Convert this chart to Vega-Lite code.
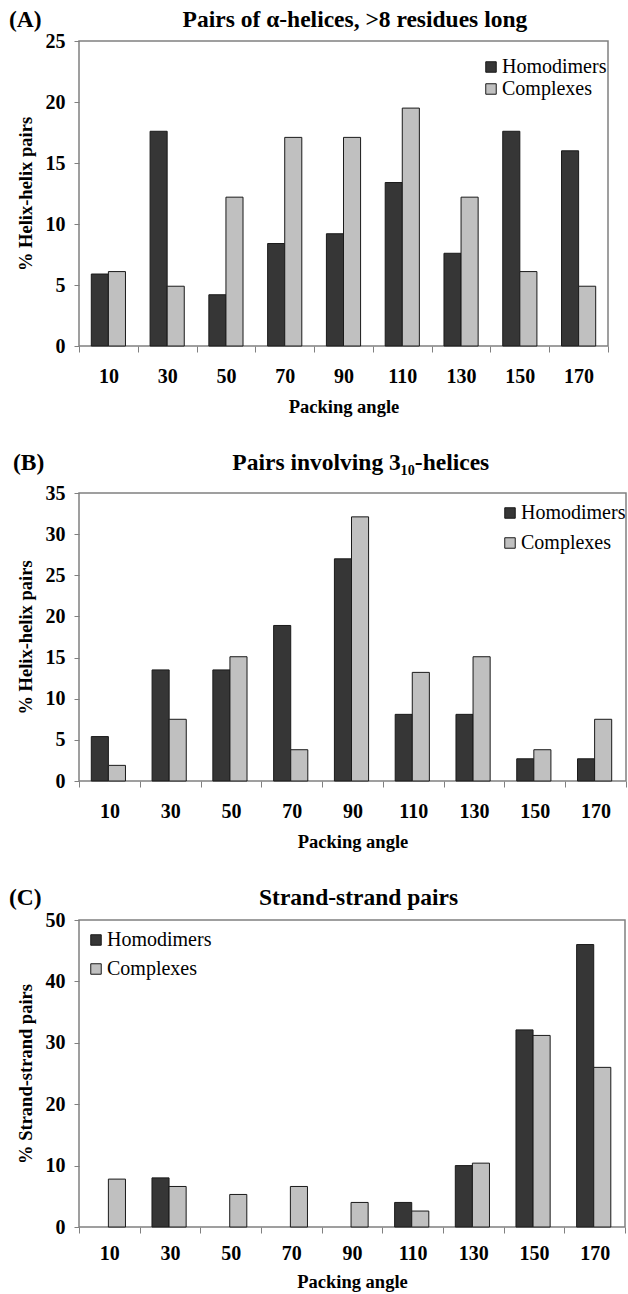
{
  "$schema": "https://vega.github.io/schema/vega-lite/v6.json",
  "padding": {"left": 8, "top": 6, "right": 0, "bottom": 0},
  "background": "white",
  "datasets": {
    "A": [
      {"angle": 10, "group": "Homodimers", "pct": 5.9},
      {"angle": 30, "group": "Homodimers", "pct": 17.6},
      {"angle": 50, "group": "Homodimers", "pct": 4.2},
      {"angle": 70, "group": "Homodimers", "pct": 8.4},
      {"angle": 90, "group": "Homodimers", "pct": 9.2},
      {"angle": 110, "group": "Homodimers", "pct": 13.4},
      {"angle": 130, "group": "Homodimers", "pct": 7.6},
      {"angle": 150, "group": "Homodimers", "pct": 17.6},
      {"angle": 170, "group": "Homodimers", "pct": 16.0},
      {"angle": 10, "group": "Complexes", "pct": 6.1},
      {"angle": 30, "group": "Complexes", "pct": 4.9},
      {"angle": 50, "group": "Complexes", "pct": 12.2},
      {"angle": 70, "group": "Complexes", "pct": 17.1},
      {"angle": 90, "group": "Complexes", "pct": 17.1},
      {"angle": 110, "group": "Complexes", "pct": 19.5},
      {"angle": 130, "group": "Complexes", "pct": 12.2},
      {"angle": 150, "group": "Complexes", "pct": 6.1},
      {"angle": 170, "group": "Complexes", "pct": 4.9}
    ],
    "B": [
      {"angle": 10, "group": "Homodimers", "pct": 5.4},
      {"angle": 30, "group": "Homodimers", "pct": 13.5},
      {"angle": 50, "group": "Homodimers", "pct": 13.5},
      {"angle": 70, "group": "Homodimers", "pct": 18.9},
      {"angle": 90, "group": "Homodimers", "pct": 27.0},
      {"angle": 110, "group": "Homodimers", "pct": 8.1},
      {"angle": 130, "group": "Homodimers", "pct": 8.1},
      {"angle": 150, "group": "Homodimers", "pct": 2.7},
      {"angle": 170, "group": "Homodimers", "pct": 2.7},
      {"angle": 10, "group": "Complexes", "pct": 1.9},
      {"angle": 30, "group": "Complexes", "pct": 7.5},
      {"angle": 50, "group": "Complexes", "pct": 15.1},
      {"angle": 70, "group": "Complexes", "pct": 3.8},
      {"angle": 90, "group": "Complexes", "pct": 32.1},
      {"angle": 110, "group": "Complexes", "pct": 13.2},
      {"angle": 130, "group": "Complexes", "pct": 15.1},
      {"angle": 150, "group": "Complexes", "pct": 3.8},
      {"angle": 170, "group": "Complexes", "pct": 7.5}
    ],
    "C": [
      {"angle": 30, "group": "Homodimers", "pct": 8.0},
      {"angle": 110, "group": "Homodimers", "pct": 4.0},
      {"angle": 130, "group": "Homodimers", "pct": 10.0},
      {"angle": 150, "group": "Homodimers", "pct": 32.1},
      {"angle": 170, "group": "Homodimers", "pct": 46.0},
      {"angle": 10, "group": "Complexes", "pct": 7.8},
      {"angle": 30, "group": "Complexes", "pct": 6.6},
      {"angle": 50, "group": "Complexes", "pct": 5.3},
      {"angle": 70, "group": "Complexes", "pct": 6.6},
      {"angle": 90, "group": "Complexes", "pct": 4.0},
      {"angle": 110, "group": "Complexes", "pct": 2.6},
      {"angle": 130, "group": "Complexes", "pct": 10.4},
      {"angle": 150, "group": "Complexes", "pct": 31.2},
      {"angle": 170, "group": "Complexes", "pct": 26.0}
    ]
  },
  "vconcat": [
    {
      "title": {"text": "(A)\u00a0\u00a0\u00a0\u00a0\u00a0\u00a0\u00a0\u00a0\u00a0\u00a0\u00a0\u00a0\u00a0\u00a0\u00a0\u00a0\u00a0\u00a0\u00a0\u00a0\u00a0\u00a0\u00a0\u00a0Pairs of α-helices, >8 residues long", "dx": -70, "offset": 0},
      "width": 529,
      "height": 305,
      "data": {"name": "A"},
      "mark": {"type": "bar", "stroke": "#1a1a1a", "strokeWidth": 1},
      "encoding": {
        "x": {"field": "angle", "type": "ordinal", "title": "Packing angle", "scale": {"paddingInner": 0, "paddingOuter": 0}, "axis": {"labelPadding": 14, "titlePadding": 11}},
        "xOffset": {"field": "group", "type": "nominal", "scale": {"domain": ["Homodimers", "Complexes"], "paddingInner": 0, "paddingOuter": 0.72}},
        "y": {"field": "pct", "type": "quantitative", "title": "% Helix-helix pairs", "scale": {"domain": [0, 25], "nice": false}, "axis": {"values": [0, 5, 10, 15, 20, 25]}},
        "color": {"field": "group", "type": "nominal", "scale": {"domain": ["Homodimers", "Complexes"], "range": ["#363636", "#c0c0c0"]}, "legend": {"orient": "none", "legendX": 402, "legendY": 16, "rowPadding": 2}}
      }
    },
    {
      "title": {"text": "(B)\u00a0\u00a0\u00a0\u00a0\u00a0\u00a0\u00a0\u00a0\u00a0\u00a0\u00a0\u00a0\u00a0\u00a0\u00a0\u00a0\u00a0\u00a0\u00a0\u00a0\u00a0\u00a0\u00a0\u00a0\u00a0\u00a0\u00a0\u00a0\u00a0\u00a0\u00a0\u00a0Pairs involving 3₁₀-helices", "dx": -66, "offset": 9},
      "width": 547,
      "height": 288,
      "data": {"name": "B"},
      "mark": {"type": "bar", "stroke": "#1a1a1a", "strokeWidth": 1},
      "encoding": {
        "x": {"field": "angle", "type": "ordinal", "title": "Packing angle", "scale": {"paddingInner": 0, "paddingOuter": 0}, "axis": {"labelPadding": 14, "titlePadding": 11}},
        "xOffset": {"field": "group", "type": "nominal", "scale": {"domain": ["Homodimers", "Complexes"], "paddingInner": 0, "paddingOuter": 0.72}},
        "y": {"field": "pct", "type": "quantitative", "title": "% Helix-helix pairs", "scale": {"domain": [0, 35], "nice": false}, "axis": {"values": [0, 5, 10, 15, 20, 25, 30, 35]}},
        "color": {"field": "group", "type": "nominal", "scale": {"domain": ["Homodimers", "Complexes"], "range": ["#363636", "#c0c0c0"]}, "legend": {"orient": "none", "legendX": 421, "legendY": 10, "rowPadding": 10}}
      }
    },
    {
      "title": {"text": "(C)\u00a0\u00a0\u00a0\u00a0\u00a0\u00a0\u00a0\u00a0\u00a0\u00a0\u00a0\u00a0\u00a0\u00a0\u00a0\u00a0\u00a0\u00a0\u00a0\u00a0\u00a0\u00a0\u00a0\u00a0\u00a0\u00a0\u00a0\u00a0\u00a0\u00a0\u00a0\u00a0\u00a0\u00a0\u00a0\u00a0\u00a0Strand-strand pairs", "dx": -70, "offset": 1},
      "width": 546,
      "height": 307,
      "data": {"name": "C"},
      "mark": {"type": "bar", "stroke": "#1a1a1a", "strokeWidth": 1},
      "encoding": {
        "x": {"field": "angle", "type": "ordinal", "title": "Packing angle", "scale": {"domain": [10, 30, 50, 70, 90, 110, 130, 150, 170], "paddingInner": 0, "paddingOuter": 0}, "axis": {"labelPadding": 10, "titlePadding": 9}},
        "xOffset": {"field": "group", "type": "nominal", "scale": {"domain": ["Homodimers", "Complexes"], "paddingInner": 0, "paddingOuter": 0.72}},
        "y": {"field": "pct", "type": "quantitative", "title": "% Strand-strand pairs", "scale": {"domain": [0, 50], "nice": false}, "axis": {"values": [0, 10, 20, 30, 40, 50]}},
        "color": {"field": "group", "type": "nominal", "scale": {"domain": ["Homodimers", "Complexes"], "range": ["#363636", "#c0c0c0"]}, "legend": {"orient": "none", "legendX": 7, "legendY": 10, "rowPadding": 9}}
      }
    }
  ],
  "spacing": 32,
  "resolve": {"scale": {"color": "independent"}, "legend": {"color": "independent"}},
  "config": {
    "font": "Liberation Serif",
    "view": {"stroke": "#808080", "strokeWidth": 1.5},
    "title": {"font": "Liberation Serif", "fontSize": 23.5, "fontWeight": "bold", "color": "black", "anchor": "start", "frame": "group"},
    "axis": {
      "labelFont": "Liberation Serif", "labelFontSize": 20, "labelFontWeight": "bold", "labelColor": "black",
      "titleFont": "Liberation Serif", "titleFontSize": 18.5, "titleFontWeight": "bold", "titleColor": "black",
      "tickColor": "#808080", "tickSize": 5, "domain": false, "grid": false
    },
    "axisX": {"labelAngle": 0, "tickBand": "extent", "tickSize": 6},
    "axisY": {"labelPadding": 9, "titlePadding": 10},
    "legend": {
      "title": null, "labelFont": "Liberation Serif", "labelFontSize": 20, "labelColor": "black",
      "symbolType": "square", "symbolSize": 110, "symbolStrokeColor": "#1a1a1a", "symbolStrokeWidth": 1, "symbolOpacity": 1, "labelOffset": 1
    }
  }
}
